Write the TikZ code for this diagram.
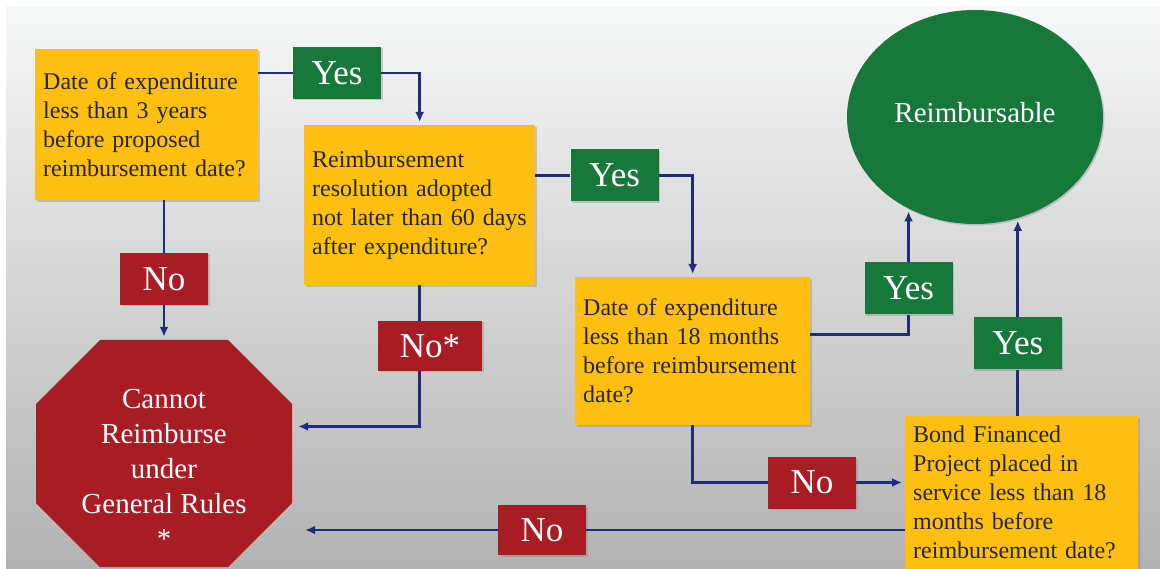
\documentclass[tikz,border=0pt]{standalone}
\usepackage{fontspec}
\setmainfont{Liberation Serif}
\usepackage{tikz}
\usetikzlibrary{arrows.meta,shapes.geometric,shadows}
\definecolor{qyellow}{HTML}{FCBF12}
\definecolor{okgreen}{HTML}{16793B}
\definecolor{nored}{HTML}{A71D23}
\definecolor{linenavy}{HTML}{1F2C7C}
\definecolor{textdark}{HTML}{262626}
\definecolor{bgtop}{HTML}{F6F7F7}
\definecolor{bgbot}{HTML}{B2B2B2}
\tikzset{
  shade_/.style        = {drop shadow={shadow xshift=1.5pt,shadow yshift=-1.5pt,opacity=.35}},
  ques_/.style n args  = {2}{shape=rectangle, fill=qyellow, anchor=north west, align=left,
                          text=textdark, inner xsep=8pt, inner ysep=0pt, text width=#1,
                          minimum height=#2, shade_},
  label_/.style        = {shape=rectangle, minimum width=88pt, minimum height=52pt, inner sep=0pt,
                          text=white, font=\fontsize{35}{40}\selectfont, shade_},
  yes_/.style          = {label_, fill=okgreen},
  no_/.style           = {label_, fill=nored},
  goal_/.style         = {shape=ellipse, fill=okgreen, minimum width=256pt, minimum height=214pt,
                          inner sep=0pt, outer sep=0pt, text=white, text depth=10pt,
                          font=\fontsize{29}{33}\selectfont, shade_},
  stop_/.style         = {shape=rectangle, minimum width=256pt, minimum height=227pt, inner sep=0pt,
                          align=center, text=white,
                          font=\fontsize{29}{35}\selectfont,
                          path picture={
                            \fill[nored] ([xshift=64pt]path picture bounding box.north west)
                              -- ([xshift=-64pt]path picture bounding box.north east)
                              -- ([yshift=-64pt]path picture bounding box.north east)
                              -- ([yshift=64pt]path picture bounding box.south east)
                              -- ([xshift=-64pt]path picture bounding box.south east)
                              -- ([xshift=64pt]path picture bounding box.south west)
                              -- ([yshift=64pt]path picture bounding box.south west)
                              -- ([yshift=-64pt]path picture bounding box.north west) -- cycle;}},
  line_/.style         = {draw=linenavy, line width=2.8pt},
  arrow_/.style        = {line_, -{Latex[length=10pt,width=9pt]}, shorten >=3pt}
}

\begin{document}
\begin{tikzpicture}
		[
		x                  = 1pt,
		y                  = -1pt,
		every node/.style  = {font=\fontsize{24}{29}\selectfont}
		]
		\useasboundingbox (0,0) rectangle (1160,569);
		\fill[white] (0,0) rectangle (1160,569);
		\shade[top color=bgtop, bottom color=bgbot] (6,7) rectangle (1160,569);
		\node [ques_={207pt}{151pt}] (date3y) at (35,49) {Date of expenditure\\less than 3 years\\before proposed\\reimbursement date?};
		\node [ques_={215pt}{160pt}] (resol) at (304,125) {Reimbursement\\resolution adopted\\not later than 60 days\\after expenditure?};
		\node [ques_={219pt}{148pt}] (date18m) at (575,277) {Date of expenditure\\less than 18 months\\before reimbursement\\date?};
		\node [ques_={217pt}{153pt}] (bond) at (905,416) {Bond Financed\\Project placed in\\service less than 18\\months before\\reimbursement date?};
		\node [goal_] (reimb) at (975,117) {Reimbursable};
		\node [stop_] (cannot) at (164,453.5) {\rule{0pt}{50pt}Cannot\\Reimburse\\under\\General Rules\\*};
		\node [yes_] (yes_date3y) at (337,73) {Yes};
		\node [yes_] (yes_resol) at (614.5,175.5) {Yes};
		\node [yes_] (yes_date18m) at (reimb.234 |- 0,288.5) {Yes};
		\node [yes_] (yes_bond) at (reimb.293 |- 0,343.5) {Yes};
		\node [no_] (no_date3y) at (cannot |- 0,279) {No};
		\node [no_, minimum width=104pt, minimum height=50pt] (no_resol) at (430,346) {No*};
		\node [no_] (no_date18m) at (812,482.5) {No};
		\node [no_, minimum height=50pt] (no_bond) at (542,530) {No};
		\draw [line_] (date3y.east |- yes_date3y) -- (yes_date3y.west);
		\draw [arrow_] (yes_date3y.east) -| (resol.north);
		\draw [line_] (resol.east |- yes_resol) -- (yes_resol.west);
		\draw [arrow_] (yes_resol.east) -| (date18m.north);
		\draw [line_] ([yshift=17pt]date18m.east) -| (yes_date18m.south);
		\draw [arrow_] (yes_date18m.north) -- (reimb.234);
		\draw [line_] (bond.north -| yes_bond) -- (yes_bond.south);
		\draw [arrow_] (yes_bond.north) -- (reimb.293);
		\draw [line_] (cannot |- date3y.south) -- (no_date3y.north);
		\draw [arrow_] (no_date3y.south) -- (cannot.north);
		\draw [line_] (resol.south) -- (resol.south |- no_resol.north);
		\draw [arrow_, shorten >=6pt] (resol.south |- no_resol.south) |- ([yshift=27pt]cannot.east);
		\draw [line_] (date18m.south) |- (no_date18m.west);
		\draw [arrow_] (no_date18m.east) -- (no_date18m.east -| bond.west);
		\draw [line_] (bond.west |- no_bond) -- (no_bond.east);
		\draw [arrow_, shorten >=13pt] (no_bond.west) -- (no_bond.west -| cannot.east);
\end{tikzpicture}
\end{document}
